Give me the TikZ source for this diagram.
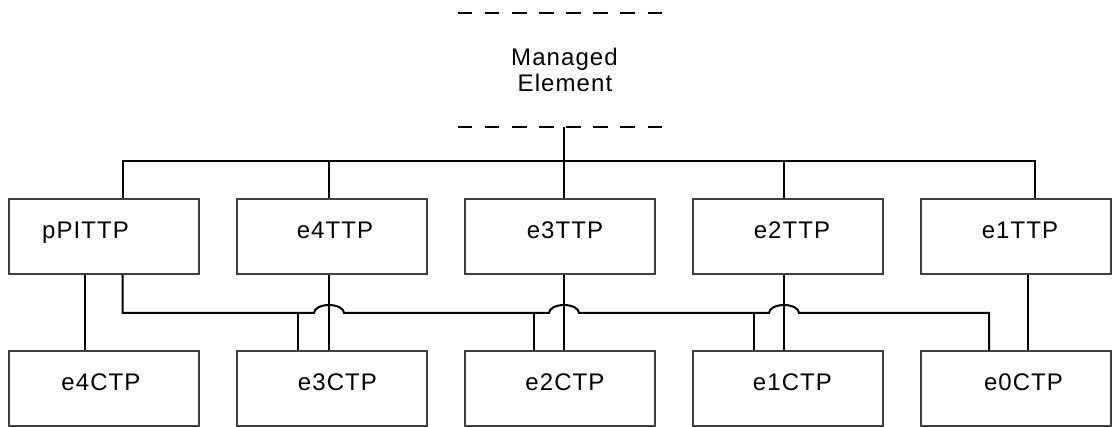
\documentclass[tikz,border=0pt]{standalone}
\usepackage{fontspec}
\newfontfamily\lblfont{Liberation Sans}[LetterSpace=4.5]
\begin{document}
\begin{tikzpicture}[x=1pt,y=-1pt,
  box/.style={draw=black!75, line width=1.2pt, rectangle, inner sep=0pt,
              minimum width=190pt, minimum height=75pt},
  lbl/.style={font=\lblfont\fontsize{24}{27}\selectfont, inner sep=0pt, anchor=base},
  wire/.style={draw=black, line width=2pt},
  dashline/.style={line width=1.8pt, dash pattern=on 14.5pt off 12.6pt}]
\useasboundingbox (0,0) rectangle (1112,427);

% managed element (open box marked by two dashed rules)
\node[rectangle, inner sep=0pt, minimum width=204.4pt, minimum height=113.4pt] (me) at (560.2,70) {};
\draw[dashline] (me.north west) -- (me.north east);
\draw[dashline] (me.south west) -- (me.south east);
\node[lbl] (me-l1) at (564.5,66) {Managed};
\node[lbl] (me-l2) at (565,92) {Element};

% trail termination points
\node[box] (pPITTP) at (104,236.5) {};
\node[box] (e4TTP)  at (332,236.5) {};
\node[box] (e3TTP)  at (560,236.5) {};
\node[box] (e2TTP)  at (788,236.5) {};
\node[box] (e1TTP)  at (1016,236.5) {};
\node[lbl] (t-pPITTP) at (85.5,239) {pPITTP};
\node[lbl] (t-e4TTP)  at (335,239) {e4TTP};
\node[lbl] (t-e3TTP)  at (565,239) {e3TTP};
\node[lbl] (t-e2TTP)  at (792,239) {e2TTP};
\node[lbl] (t-e1TTP)  at (1020,239) {e1TTP};

% connection termination points
\node[box] (e4CTP) at (104,388.5) {};
\node[box] (e3CTP) at (332,388.5) {};
\node[box] (e2CTP) at (560,388.5) {};
\node[box] (e1CTP) at (788,388.5) {};
\node[box] (e0CTP) at (1016,388.5) {};
\node[lbl] (t-e4CTP) at (101,391) {e4CTP};
\node[lbl] (t-e3CTP) at (337.5,391) {e3CTP};
\node[lbl] (t-e2CTP) at (565,391) {e2CTP};
\node[lbl] (t-e1CTP) at (792.5,391) {e1CTP};
\node[lbl] (t-e0CTP) at (1023.5,391) {e0CTP};

% containment bus from the managed element
\coordinate (bus) at (564,160.7);
\draw[wire] ([xshift=3.8pt]me.south) -- (bus);
\draw[wire] ([xshift=18.7pt]pPITTP.north) |- (bus) -| ([xshift=19pt]e1TTP.north);
\draw[wire] ([xshift=-3pt]e4TTP.north) -- ([xshift=-3pt]e4TTP.north |- bus);
\draw[wire] ([xshift=4pt]e3TTP.north) -- ([xshift=4pt]e3TTP.north |- bus);
\draw[wire] ([xshift=-4.3pt]e2TTP.north) -- ([xshift=-4.3pt]e2TTP.north |- bus);

% TTP to CTP links
\draw[wire] ([xshift=-19pt]pPITTP.south) -- ([xshift=-19pt]pPITTP.south |- e4CTP.north);
\draw[wire] ([xshift=-3pt]e4TTP.south) -- ([xshift=-3pt]e3CTP.north);
\draw[wire] ([xshift=4pt]e3TTP.south) -- ([xshift=4pt]e2CTP.north);
\draw[wire] ([xshift=-4.3pt]e2TTP.south) -- ([xshift=-4.3pt]e1CTP.north);
\draw[wire] ([xshift=12.3pt]e1TTP.south) -- ([xshift=12.3pt]e0CTP.north);

% pPITTP link line hopping over the vertical links
\coordinate (hopA) at (314,313);
\coordinate (hopB) at (549,313);
\coordinate (hopC) at (769,313);
\draw[wire] ([xshift=18.7pt]pPITTP.south) |- (hopA)
  arc[start angle=180, end angle=0, x radius=15pt, y radius=8pt] -- (hopB)
  arc[start angle=180, end angle=0, x radius=15pt, y radius=8pt] -- (hopC)
  arc[start angle=180, end angle=0, x radius=15pt, y radius=8pt]
  -| ([xshift=-27pt]e0CTP.north);
\draw[wire] ([xshift=-34.3pt]e3CTP.north) -- ([xshift=-34.3pt]e3CTP.north |- hopA);
\draw[wire] ([xshift=-26pt]e2CTP.north) -- ([xshift=-26pt]e2CTP.north |- hopA);
\draw[wire] ([xshift=-34.3pt]e1CTP.north) -- ([xshift=-34.3pt]e1CTP.north |- hopA);
\end{tikzpicture}
\end{document}
